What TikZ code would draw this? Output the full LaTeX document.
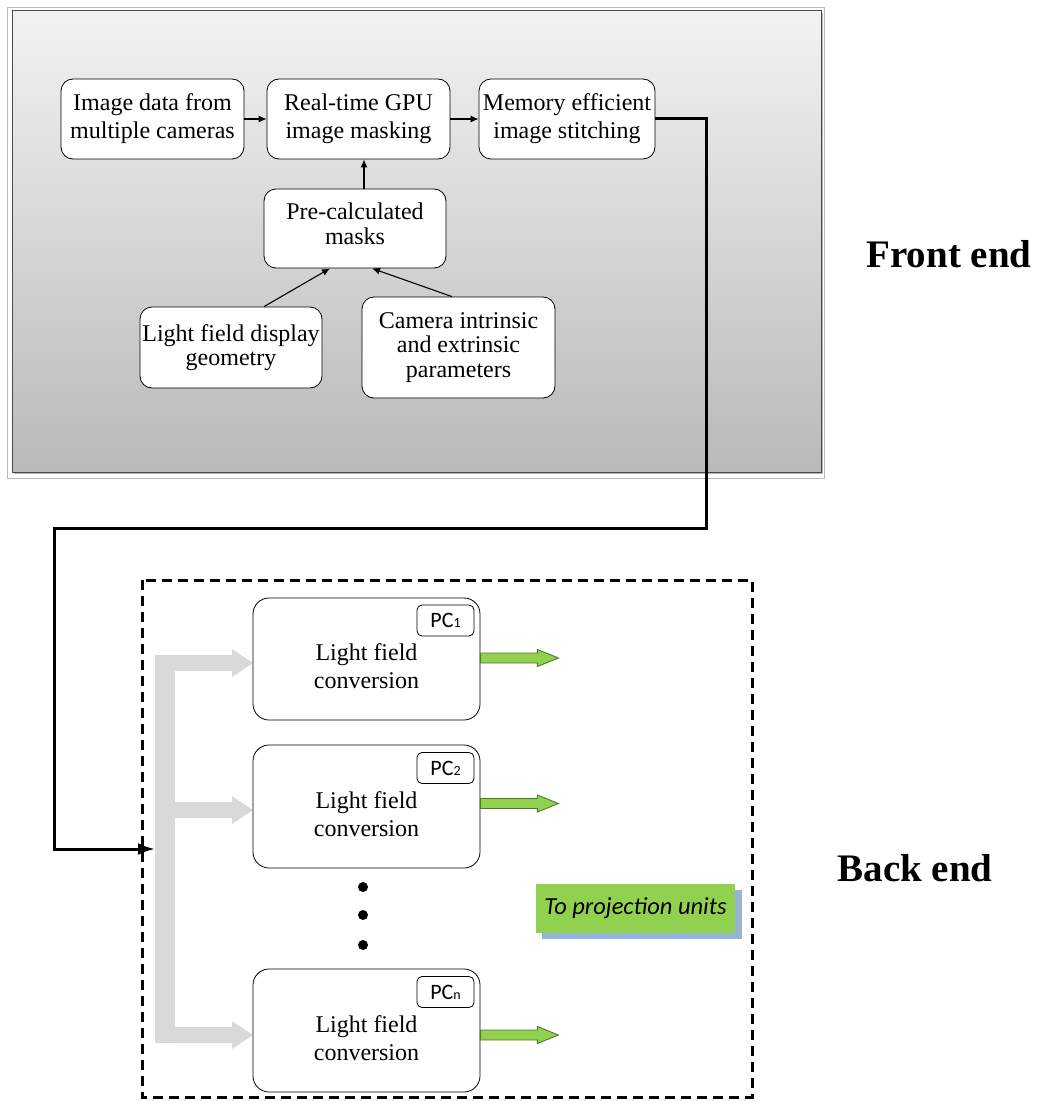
\documentclass[tikz,border=0pt]{standalone}
\usepackage{fontspec}
\setmainfont{Liberation Serif}
\newfontfamily\labelfont{Carlito}
\usetikzlibrary{arrows.meta,calc}

\definecolor{panelTop}{HTML}{F2F2F2}
\definecolor{panelBot}{HTML}{B9B9B9}
\definecolor{panelEdge}{HTML}{4A4A4A}
\definecolor{spineGray}{HTML}{D9D9D9}
\definecolor{arrowGreen}{HTML}{92D050}
\definecolor{arrowEdge}{HTML}{4F7A28}
\definecolor{shadowBlue}{HTML}{95B3D7}

\newcommand{\pcsub}[1]{{\fontsize{14}{14}\selectfont #1}}

\begin{document}
\begin{tikzpicture}[x=1pt,y=-1pt,
  flowbox/.style={draw, fill=white, rounded corners=12pt, line width=0.8pt,
    align=center, inner sep=0pt},
  fsA/.style={font=\fontsize{24}{28}\selectfont},
  fsB/.style={font=\fontsize{24}{24.5}\selectfont},
  pcbox/.style={draw, fill=white, rounded corners=16pt, line width=0.8pt,
    minimum width=227pt, minimum height=122pt, inner sep=0pt},
  pctext/.style={align=center, font=\fontsize{24}{28}\selectfont, inner sep=0pt},
  pctag/.style={draw, fill=white, rounded corners=5pt, line width=0.8pt,
    minimum width=57pt, minimum height=31pt, inner sep=0pt,
    font=\labelfont\fontsize{22}{22}\selectfont},
  conn/.style={line width=1.1pt, -{Latex[length=8pt,width=7pt]}},
  bigconn/.style={line width=3pt, -{Latex[length=17pt,width=12pt]}},
  greenarrow/.style={fill=arrowGreen, draw=arrowEdge, line width=0.9pt, line join=miter},
  sidetitle/.style={font=\fontsize{39}{44}\selectfont\bfseries, anchor=base, inner sep=0pt}
]
\useasboundingbox (0,0) rectangle (1040,1102);

% ---------- front end panel ----------
\draw[gray!55, line width=0.8pt] (7.5,7) rectangle (824,478);
\fill[gray!60] (14,13) rectangle (823,474);
\shade[top color=panelTop, bottom color=panelBot, draw=panelEdge, line width=1pt]
  (12,11) rectangle (821,472);

\node[flowbox, fsA, minimum width=183pt, minimum height=80pt] (b1) at (152.5,119)
  {Image data from\\multiple cameras};
\node[flowbox, fsA, minimum width=183pt, minimum height=80pt] (b2) at (358.5,119)
  {Real-time GPU\\image masking};
\node[flowbox, fsA, minimum width=176pt, minimum height=80pt] (b3) at (567,119)
  {Memory efficient\\image stitching};
\node[flowbox, fsB, minimum width=182pt, minimum height=79pt, text depth=10pt] (masks) at (355,228.5)
  {Pre-calculated\\masks};
\node[flowbox, fsB, minimum width=182pt, minimum height=81pt] (lfd) at (231,347.5)
  {Light field display\\geometry};
\node[flowbox, fsB, minimum width=193pt, minimum height=101pt] (cam) at (458.5,347.5)
  {Camera intrinsic\\and extrinsic\\parameters};

\coordinate (upx) at (364,0);
\draw[conn] (b1) -- (b2);
\draw[conn] (b2) -- (b3);
\draw[conn] (masks.north -| upx) -- (b2.south -| upx);
\draw[conn] ($(lfd.north)+(33,0)$) -- ($(masks.south)+(-25,0)$);
\draw[conn] ($(cam.north)+(-6.5,0)$) -- ($(masks.south)+(17,0)$);

\node[sidetitle] (fe) at (949,267) {Front end};

% ---------- back end ----------
\draw[line width=3pt, dash pattern=on 10pt off 6pt] (142,580) rectangle (752,1097);

% distribution bus
\fill[spineGray] (155,655) rectangle (175,1043);
\foreach \c in {663,810,1035}{
  \fill[spineGray] (175,\c-8) -- (232,\c-8) -- (232,\c-14) -- (253,\c)
    -- (232,\c+14) -- (232,\c+8) -- (175,\c+8) -- cycle;
}

\node[pcbox] (pc1) at (366.5,659) {};
\node[pcbox, minimum height=123pt] (pc2) at (366.5,806.5) {};
\node[pcbox, minimum height=123pt] (pcn) at (366.5,1030.5) {};

\node[pctext] (t1) at ($(pc1.center)+(0,7)$) {Light field\\conversion};
\node[pctext] (t2) at ($(pc2.center)+(0,8)$) {Light field\\conversion};
\node[pctext] (tn) at ($(pcn.center)+(0,8)$) {Light field\\conversion};

\node[pctag] (tag1) at (445.5,620.5) {PC\pcsub{1}};
\node[pctag] (tag2) at (445.5,768) {PC\pcsub{2}};
\node[pctag] (tagn) at (445.5,992) {PC\pcsub{n}};

% outputs to the projection units
\foreach \b/\c in {pc1/658, pc2/803.5, pcn/1035}{
  \coordinate (s) at (\b.east |- 0,\c);
  \draw[greenarrow] ($(s)+(0,-5)$) -- ++(57,0) -- ++(0,-3.5) -- ++(21,8.5)
    -- ++(-21,8.5) -- ++(0,-3.5) -- ++(-57,0) -- cycle;
}

\fill (363,887) circle[radius=5pt];
\fill (363,915) circle[radius=5pt];
\fill (363,945) circle[radius=5pt];

\fill[shadowBlue] (542,890) rectangle (742,939);
\node[fill=arrowGreen, minimum width=199pt, minimum height=49pt, inner sep=0pt,
  font=\labelfont\itshape\fontsize{24.5}{24.5}\selectfont] (dest) at (635.5,908.5)
  {To projection units};

\node[sidetitle] (be) at (915,881) {Back end};

% link from front end to back end
\coordinate (r1) at (706,528);
\coordinate (l1) at (54,528);
\coordinate (busin) at (155,849);
\draw[bigconn] (b3.east) -| (r1) -- (l1) |- (busin);
\end{tikzpicture}
\end{document}
